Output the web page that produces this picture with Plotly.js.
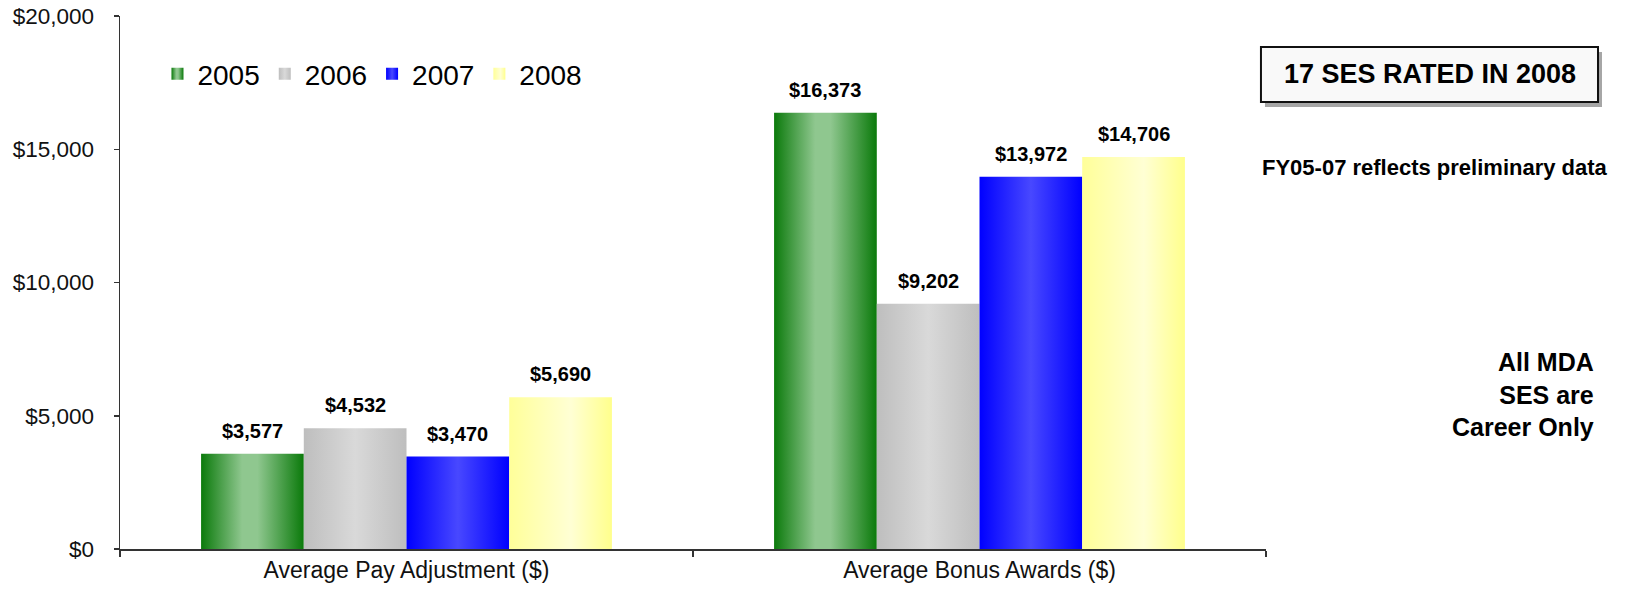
<!DOCTYPE html>
<html><head><meta charset="utf-8">
<script src="https://cdn.plot.ly/plotly-3.0.1.min.js"></script>
<style>html,body{margin:0;padding:0;background:#fff;} #chart{width:1631px;height:592px;}</style>
</head><body><div id="chart"></div>
<script>
// ---- data ----
const categories = ['Average Pay Adjustment ($)', 'Average Bonus Awards ($)'];
const years = ['2005', '2006', '2007', '2008'];
const values2005 = [3577, 16373];
const values2006 = [4532, 9202];
const values2007 = [3470, 13972];
const values2008 = [5690, 14706];
const seriesValues = [values2005, values2006, values2007, values2008];
const yTickVals = [0, 5000, 10000, 15000, 20000];
const yTickText = ['$0', '$5,000', '$10,000', '$15,000', '$20,000'];
const noteBox = '17 SES RATED IN 2008';
const notePrelim = 'FY05-07 reflects preliminary data';
const noteCareer = 'All MDA<br>SES are<br>Career Only';

// ---- styles ----
const baseColors = ['#4da64d', '#cccccc', '#2b2bff', '#ffffb8'];
const gradientStops = [
  [[0, '#0b7a0b'], [0.4, '#8fc78f'], [0.55, '#8fc78f'], [1, '#0b7a0b']],
  [[0, '#bebebe'], [0.5, '#d9d9d9'], [1, '#bebebe']],
  [[0, '#0000ff'], [0.5, '#4848ff'], [1, '#0000ff']],
  [[0, '#ffff99'], [0.6, '#ffffd4'], [1, '#ffff8c']]
];
const BARGAP = 0.283;
const FONT = 'Liberation Sans, Arial, sans-serif';

const fmt = v => '$' + v.toLocaleString('en-US');

const traces = years.map((yr, i) => ({
  type: 'bar',
  name: yr,
  x: categories,
  y: seriesValues[i],
  marker: {color: baseColors[i], line: {width: 0}},
  hoverinfo: 'skip'
}));

// data labels placed above each bar via the category axis scale
const groupWidth = 1 - BARGAP;
const barW = groupWidth / years.length;
const labelAnnotations = [];
seriesValues.forEach((vals, i) => {
  vals.forEach((v, c) => {
    labelAnnotations.push({
      xref: 'x', yref: 'y',
      x: c - groupWidth / 2 + barW * (i + 0.5),
      y: v,
      text: fmt(v),
      showarrow: false,
      yanchor: 'bottom',
      yshift: 10,
      font: {family: FONT, size: 20, color: '#000', weight: 'bold'}
    });
  });
});

const sideAnnotations = [
  {xref: 'paper', yref: 'paper', x: 1.1431, y: 0.8903, text: '<b>' + noteBox + '</b>', showarrow: false,
   xanchor: 'center', yanchor: 'middle', font: {family: FONT, size: 27, color: '#000'}},
  {xref: 'paper', yref: 'paper', x: 1.2998, y: 0.7158, text: '<b>' + notePrelim + '</b>', showarrow: false,
   xanchor: 'right', yanchor: 'middle', font: {family: FONT, size: 22, color: '#000'}},
  {xref: 'paper', yref: 'paper', x: 1.2878, y: 0.290, text: '<b>' + noteCareer + '</b>', showarrow: false,
   xanchor: 'right', yanchor: 'middle', align: 'right', font: {family: FONT, size: 25, color: '#000'}}
];

const layout = {
  width: 1631, height: 592,
  margin: {l: 120, r: 365, t: 16, b: 43},
  paper_bgcolor: '#fff', plot_bgcolor: '#fff',
  barmode: 'group', bargap: BARGAP, bargroupgap: 0,
  font: {family: FONT, color: '#000'},
  showlegend: true,
  legend: {orientation: 'h', x: 0.0327, y: 0.891, xanchor: 'left', yanchor: 'middle',
           font: {family: FONT, size: 28, color: '#000'}, bgcolor: 'rgba(0,0,0,0)'},
  xaxis: {type: 'category', showline: true, linecolor: '#333', linewidth: 1.5,
          ticks: 'outside', tickson: 'boundaries', ticklen: 6, tickcolor: '#333', tickwidth: 1.5,
          tickfont: {family: FONT, size: 23, color: '#111'}, showgrid: false, zeroline: false,
          fixedrange: true},
  yaxis: {range: [0, 20000], tickmode: 'array', tickvals: yTickVals, ticktext: yTickText,
          showline: true, linecolor: '#333', linewidth: 1.5, ticks: 'outside', ticklen: 5,
          tickcolor: '#333', tickwidth: 1.5, ticklabelstandoff: 15,
          tickfont: {family: FONT, size: 22.5, color: '#111'}, showgrid: false, zeroline: false,
          fixedrange: true},
  shapes: [
    {type: 'rect', xref: 'paper', yref: 'paper', x0: 0.9991, x1: 1.2932, y0: 0.8293, y1: 0.9325,
     fillcolor: '#a6a6a6', line: {width: 0}, layer: 'above'},
    {type: 'rect', xref: 'paper', yref: 'paper', x0: 0.9956, x1: 1.2897, y0: 0.8387, y1: 0.9418,
     fillcolor: '#f9f9f9', line: {color: '#111', width: 2}, layer: 'above'}
  ],
  annotations: labelAnnotations.concat(sideAnnotations)
};

function applyGradients(gd) {
  const ns = 'http://www.w3.org/2000/svg';
  const svg = gd.querySelector('.main-svg');
  let defs = svg.querySelector('defs');
  if (!defs) { defs = document.createElementNS(ns, 'defs'); svg.insertBefore(defs, svg.firstChild); }
  gradientStops.forEach((stops, i) => {
    const lg = document.createElementNS(ns, 'linearGradient');
    lg.setAttribute('id', 'barGrad' + i);
    lg.setAttribute('x1', '0'); lg.setAttribute('y1', '0');
    lg.setAttribute('x2', '1'); lg.setAttribute('y2', '0');
    stops.forEach(s => {
      const st = document.createElementNS(ns, 'stop');
      st.setAttribute('offset', s[0]);
      st.setAttribute('stop-color', s[1]);
      lg.appendChild(st);
    });
    defs.appendChild(lg);
  });
  gd.querySelectorAll('.barlayer .trace.bars').forEach((tr, i) => {
    tr.querySelectorAll('path').forEach(p => { p.style.fill = 'url(#barGrad' + i + ')'; });
  });
  gd.querySelectorAll('.legend .traces').forEach((tr, i) => {
    tr.querySelectorAll('.legendpoints path').forEach(p => { p.style.fill = 'url(#barGrad' + i + ')'; });
  });
}

Plotly.newPlot('chart', traces, layout, {staticPlot: true, displayModeBar: false})
  .then(applyGradients);
</script>
</body></html>
